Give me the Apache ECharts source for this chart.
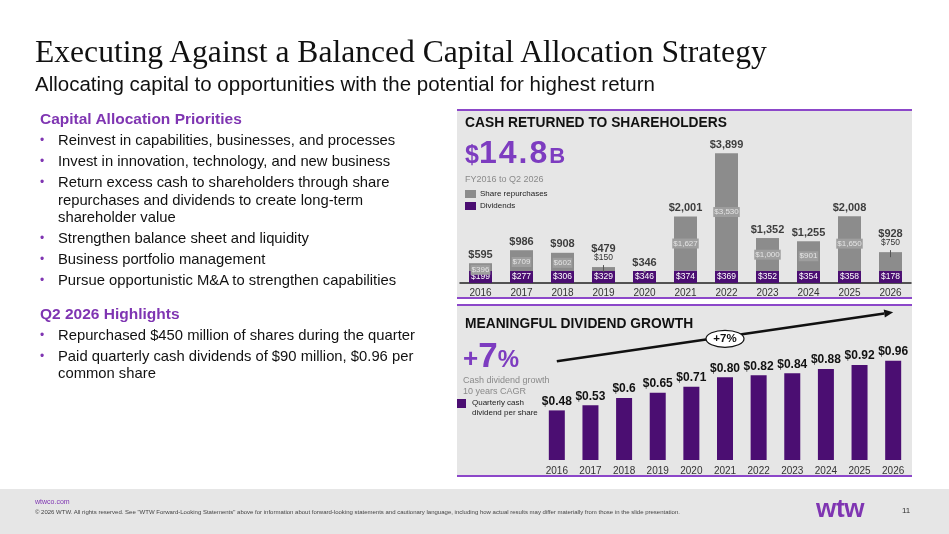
<!DOCTYPE html>
<html>
<head>
<meta charset="utf-8">
<script src="https://cdn.jsdelivr.net/npm/echarts@6/dist/echarts.min.js"></script>
<style>
html, body { margin: 0; padding: 0; background: #fff; }
body { width: 949px; height: 534px; position: relative; overflow: hidden;
       font-family: "Liberation Sans", Arial, sans-serif; color: #111; }
.t { position: absolute; white-space: nowrap; z-index: 3; }
#title { left: 35px; top: 35.5px; font-family: "Liberation Serif", "Times New Roman", serif; font-size: 31.6px; line-height: 31.6px; color: #111; }
#sub { left: 35px; top: 73.5px; font-size: 20.5px; line-height: 20.5px; }
.head { left: 40px; color: #7f35b2; font-weight: bold; font-size: 15.5px; line-height: 17px; }
.bul { left: 58px; font-size: 14.8px; line-height: 17.5px; }
.bul:before { content: "\2022"; position: absolute; left: -18px; top: 0; color: #7f35b2; font-size: 12px; }
.panel { position: absolute; left: 457px; width: 455px; background: #e6e6e6;
         border-top: 2px solid #8c47c9; border-bottom: 2px solid #8c47c9; z-index: 0; }
#footer { position: absolute; left: 0; top: 489px; width: 949px; height: 45px; background: #e6e6e6; z-index: 0; }
#chart { position: absolute; left: 0; top: 0; width: 949px; height: 534px; z-index: 1; }
.ph { font-weight: bold; font-size: 13.8px; line-height: 14px; left: 465px; color: #111; }
.gray { color: #8a8a8a; font-size: 9px; }
.big { color: #7d3cc0; font-weight: bold; line-height: 30px; }
</style>
</head>
<body>
<div class="panel" style="top:109px;height:186px;"></div>
<div class="panel" style="top:304px;height:169px;"></div>
<div id="footer"></div>
<div id="chart"></div>

<div id="title" class="t">Executing Against a Balanced Capital Allocation Strategy</div>
<div id="sub" class="t">Allocating capital to opportunities with the potential for highest return</div>

<div class="t head" style="top:110px;">Capital Allocation Priorities</div>
<div class="t bul" style="top:132px;">Reinvest in capabilities, businesses, and processes</div>
<div class="t bul" style="top:153px;">Invest in innovation, technology, and new business</div>
<div class="t bul" style="top:174px;">Return excess cash to shareholders through share<br>repurchases and dividends to create long-term<br>shareholder value</div>
<div class="t bul" style="top:230px;">Strengthen balance sheet and liquidity</div>
<div class="t bul" style="top:251px;">Business portfolio management</div>
<div class="t bul" style="top:271.5px;">Pursue opportunistic M&amp;A to strengthen capabilities</div>
<div class="t head" style="top:304.5px;">Q2 2026 Highlights</div>
<div class="t bul" style="top:326.5px;">Repurchased $450 million of shares during the quarter</div>
<div class="t bul" style="top:347.5px;">Paid quarterly cash dividends of $90 million, $0.96 per<br>common share</div>

<div class="t ph" style="top:115.5px;">CASH RETURNED TO SHAREHOLDERS</div>
<div class="t big" style="left:465px;top:137px;"><span style="font-size:25px">$</span><span style="font-size:32px;letter-spacing:2px">14.8</span><span style="font-size:22px">B</span></div>
<div class="t gray" style="left:465px;top:174.5px;line-height:9px;">FY2016 to Q2 2026</div>

<div class="t ph" style="top:316.5px;">MEANINGFUL DIVIDEND GROWTH</div>
<div class="t big" style="left:463px;top:338px;line-height:34px;"><span style="font-size:26px">+</span><span style="font-size:35px">7</span><span style="font-size:24px">%</span></div>
<div class="t gray" style="left:463px;top:374.5px;line-height:11px;">Cash dividend growth<br>10 years CAGR</div>
<div class="t" style="left:457px;top:399px;width:9px;height:9px;background:#4b0e72;"></div>
<div class="t" style="left:472px;top:398px;font-size:8px;line-height:10px;color:#222;">Quarterly cash<br>dividend per share</div>

<div class="t" style="left:35px;top:498px;font-size:7px;line-height:8px;color:#7f35b2;">wtwco.com</div>
<div class="t" style="left:35px;top:508.5px;font-size:6px;line-height:7px;color:#444;">© 2026 WTW. All rights reserved. See "WTW Forward-Looking Statements" above for information about forward-looking statements and cautionary language, including how actual results may differ materially from those in the slide presentation.</div>
<div class="t" style="left:816px;top:495px;font-size:26px;line-height:26px;font-weight:900;color:#7f35b2;letter-spacing:-0.3px;">wtw</div>
<div class="t" style="left:902px;top:507px;font-size:8px;line-height:8px;color:#333;">11</div>

<script>
// fiscal years shown on both charts
var years = ['2016', '2017', '2018', '2019', '2020', '2021', '2022', '2023', '2024', '2025', '2026'];

// cash returned to shareholders, $ millions
var dividends   = [199, 277, 306, 329, 346, 374, 369, 352, 354, 358, 178];
var repurchases = [396, 709, 602, 150, 0, 1627, 3530, 1000, 901, 1650, 750];
var totals      = [595, 986, 908, 479, 346, 2001, 3899, 1352, 1255, 2008, 928];

// quarterly cash dividend per share
var perShare = [0.48, 0.53, 0.6, 0.65, 0.71, 0.80, 0.82, 0.84, 0.88, 0.92, 0.96];
var perShareText = ['$0.48', '$0.53', '$0.6', '$0.65', '$0.71', '$0.80', '$0.82', '$0.84', '$0.88', '$0.92', '$0.96'];

// years whose buyback is too small to hold its label inside the bar
var smallBuyback = ['2019', '2026'];

var money = function (v) { return '$' + v.toLocaleString('en-US'); };

var chart = echarts.init(document.getElementById('chart'));

var buyData = repurchases.map(function (v, i) {
    if (smallBuyback.indexOf(years[i]) < 0) return v;
    return { value: v, label: { position: 'top', distance: 4, color: '#333', backgroundColor: 'transparent', fontSize: 8.5 } };
});
var totalData = totals.map(function (v, i) {
    if (smallBuyback.indexOf(years[i]) < 0) return v;
    return { value: v, label: { distance: 13 } };
});

var option = {
    animation: false,
    textStyle: { fontFamily: 'Liberation Sans' },
    grid: [
        { left: 460, top: 150, width: 451, height: 133 },
        { left: 540, top: 336, width: 370, height: 124 }
    ],
    legend: {
        left: 460, top: 185, orient: 'vertical',
        itemWidth: 11, itemHeight: 8, itemGap: 4, selectedMode: false,
        icon: 'rect',
        data: ['Share repurchases', 'Dividends'],
        textStyle: { fontSize: 8, color: '#222', padding: [0, 0, 0, -1] }
    },
    xAxis: [
        {
            type: 'category', gridIndex: 0, data: years,
            axisLine: { lineStyle: { color: '#222', width: 1.5 } },
            axisTick: { show: false },
            axisLabel: { fontSize: 10, color: '#333', margin: 5 }
        },
        {
            type: 'category', gridIndex: 1, data: years,
            axisLine: { show: false },
            axisTick: { show: false },
            axisLabel: { fontSize: 10, color: '#333', margin: 6 }
        }
    ],
    yAxis: [
        { type: 'value', gridIndex: 0, min: 0, max: 4000, show: false },
        { type: 'value', gridIndex: 1, min: 0, max: 1.2, show: false }
    ],
    series: [
        {
            name: 'Dividends', type: 'bar', stack: 'cash',
            xAxisIndex: 0, yAxisIndex: 0, barWidth: 23,
            itemStyle: { color: '#4b0e72' },
            label: {
                show: true, position: 'insideBottom', distance: 1,
                fontSize: 8.5, color: '#fff', backgroundColor: '#4b0e72', padding: [1, 2],
                formatter: function (p) { return money(p.value); }
            },
            data: dividends
        },
        {
            name: 'Share repurchases', type: 'bar', stack: 'cash',
            xAxisIndex: 0, yAxisIndex: 0, barWidth: 23,
            itemStyle: { color: '#8c8c8c' },
            label: {
                show: true, position: 'inside',
                fontSize: 8, color: '#e4e4e4', backgroundColor: '#9e9e9e', padding: [1, 1],
                formatter: function (p) { return p.value ? money(p.value) : ''; }
            },
            data: buyData
        },
        {
            name: 'Total', type: 'scatter', xAxisIndex: 0, yAxisIndex: 0,
            symbolSize: 0,
            label: {
                show: true, position: 'top', distance: 3,
                fontSize: 11, fontWeight: 'bold', color: '#111',
                formatter: function (p) { return money(p.value); }
            },
            data: totalData
        },
        {
            name: 'Quarterly cash dividend per share', type: 'bar',
            xAxisIndex: 1, yAxisIndex: 1, barWidth: 16,
            itemStyle: { color: '#4b0e72' },
            label: {
                show: true, position: 'top', distance: 3,
                fontSize: 12, fontWeight: 'bold', color: '#111',
                formatter: function (p) { return perShareText[p.dataIndex]; }
            },
            data: perShare
        }
    ]
};
chart.setOption(option);

// leader ticks for the buyback labels sitting above their bars,
// and the CAGR arrow across the dividend chart
var marks = [];
smallBuyback.forEach(function (y) {
    var i = years.indexOf(y);
    var p = chart.convertToPixel({ gridIndex: 0 }, [i, totals[i]]);
    marks.push({
        type: 'line', z: 10,
        shape: { x1: p[0], y1: p[1] - 2, x2: p[0], y2: p[1] + 5 },
        style: { stroke: '#555', lineWidth: 1 }
    });
});

var a0 = chart.convertToPixel({ gridIndex: 1 }, [0, 0.955]);
var a1 = chart.convertToPixel({ gridIndex: 1 }, [10, 1.43]);
var dx = a1[0] - a0[0], dy = a1[1] - a0[1], len = Math.sqrt(dx * dx + dy * dy);
var ux = dx / len, uy = dy / len, head = 9, half = 4;
var bx = a1[0] - ux * head, by = a1[1] - uy * head;
marks.push({
    type: 'line', z: 10,
    shape: { x1: a0[0], y1: a0[1], x2: bx, y2: by },
    style: { stroke: '#111', lineWidth: 2.5 }
});
marks.push({
    type: 'polygon', z: 10,
    shape: { points: [[a1[0], a1[1]], [bx - uy * half, by + ux * half], [bx + uy * half, by - ux * half]] },
    style: { fill: '#111' }
});
var mx = a0[0] + dx * 0.5, my = a0[1] + dy * 0.5;
marks.push({
    type: 'ellipse', z: 11,
    shape: { cx: mx, cy: my + 2, rx: 19, ry: 8.5 },
    style: { fill: '#fff', stroke: '#111', lineWidth: 1.2 }
});
marks.push({
    type: 'text', z: 12, x: mx, y: my + 2,
    style: { text: '+7%', fill: '#111', font: 'bold 11.5px "Liberation Sans"', align: 'center', verticalAlign: 'middle' }
});

chart.setOption({ graphic: marks });
</script>
</body>
</html>
